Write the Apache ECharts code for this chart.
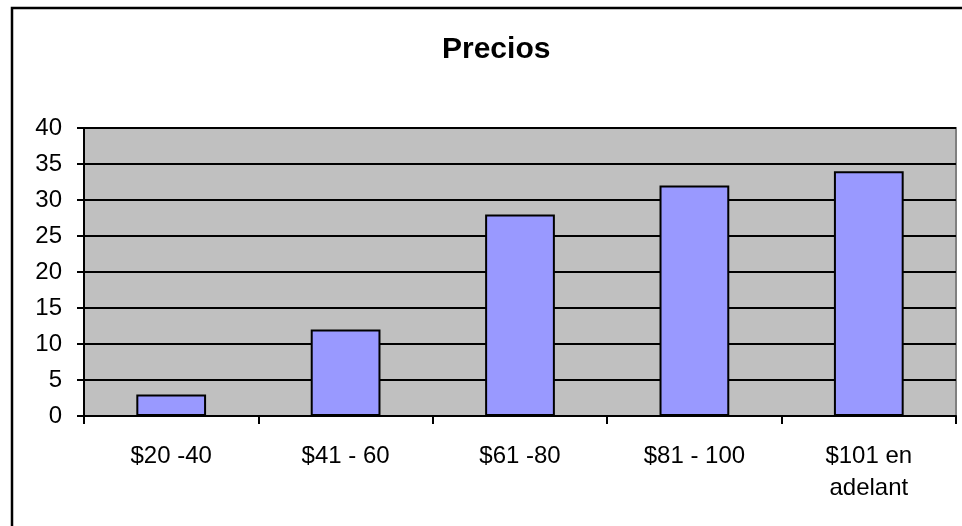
<!DOCTYPE html>
<html lang="es">
<head>
    <meta charset="UTF-8">
    <title>Precios</title>
    <script src="https://cdn.jsdelivr.net/npm/echarts@6/dist/echarts.min.js"></script>
    <style>
        body { margin: 0; padding: 0; background: #ffffff; }
        #main { width: 962px; height: 526px; }
    </style>
</head>
<body>
    <div id="main"></div>
    <script>
        const categories = ['$20 -40', '$41 - 60', '$61 -80', '$81 - 100', '$101 en\nadelant'];
        const values = [3, 12, 28, 32, 34];
        const yTicks = { min: 0, max: 40, interval: 5 };

        const font = 'Arial';
        const chart = echarts.init(document.getElementById('main'));
        chart.setOption({
            animation: false,
            title: {
                text: 'Precios',
                left: 437,
                top: 30,
                textStyle: { fontFamily: font, fontSize: 30, fontWeight: 'bold', color: '#000' }
            },
            grid: {
                left: 84, right: 6, top: 128, bottom: 110,
                show: true, backgroundColor: '#c0c0c0', borderColor: '#808080', borderWidth: 2
            },
            xAxis: {
                type: 'category',
                data: categories,
                axisLine: { lineStyle: { color: '#000', width: 2 } },
                axisTick: { show: true, length: 8, lineStyle: { color: '#000', width: 2 } },
                axisLabel: {
                    fontFamily: font, fontSize: 24, color: '#000',
                    margin: 24, lineHeight: 32, interval: 0
                }
            },
            yAxis: {
                type: 'value',
                min: yTicks.min, max: yTicks.max, interval: yTicks.interval,
                axisLine: { show: true, lineStyle: { color: '#000', width: 2 } },
                axisTick: { show: true, length: 7, lineStyle: { color: '#000', width: 2 } },
                splitLine: { lineStyle: { color: '#000', width: 2 } },
                axisLabel: { fontFamily: font, fontSize: 24, color: '#000', margin: 22 }
            },
            series: [{
                type: 'bar',
                data: values,
                barWidth: '40%',
                itemStyle: { color: '#9999ff', borderColor: '#000', borderWidth: 2 }
            }],
            graphic: [{
                type: 'polyline',
                shape: { points: [[12, 530], [12, 8], [970, 8]] },
                style: { stroke: '#000', lineWidth: 2.5, fill: null },
                z: 100
            }]
        });
    </script>
</body>
</html>
